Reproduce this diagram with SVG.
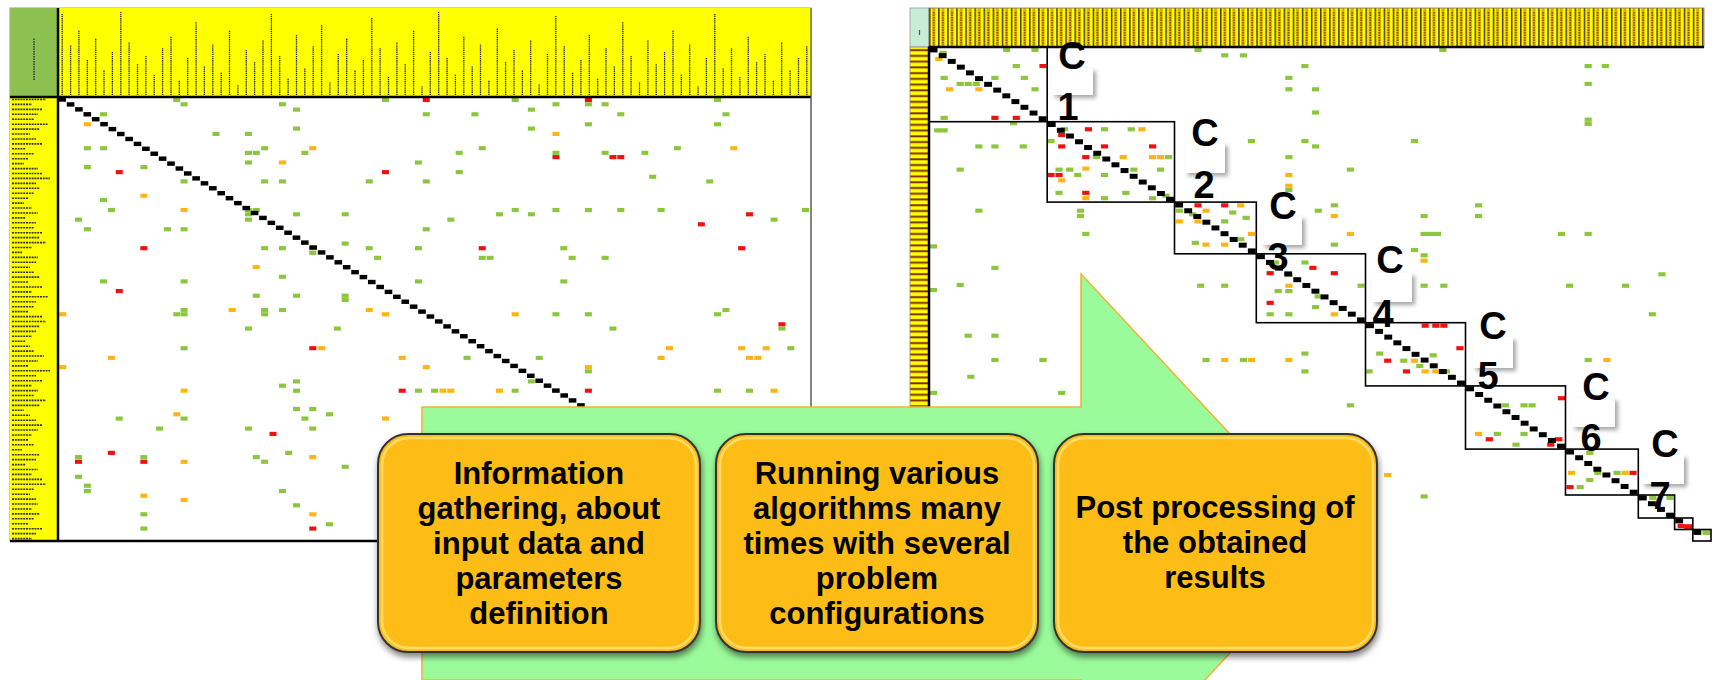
<svg xmlns="http://www.w3.org/2000/svg" xmlns:xlink="http://www.w3.org/1999/xlink" width="1718" height="680" viewBox="0 0 1718 680">
<style>
.txt{font-family:"Liberation Sans",Arial,sans-serif;font-weight:bold;fill:#000;text-anchor:middle}
.step{font-size:31px}
.cl{font-size:38px}
.lb{fill:#fff;filter:url(#ls)}
.cbox{fill:none;stroke:#000;stroke-width:1.6}
.box{fill:#FEBD12;stroke:#333;stroke-width:2}
.bev{fill:none;stroke:#FFE37E;stroke-width:2.5;opacity:.8}
</style>
<defs>
<filter id="ls" x="-30%" y="-30%" width="170%" height="170%"><feDropShadow dx="3" dy="3" stdDeviation="2" flood-color="#000" flood-opacity=".35"/></filter>
<filter id="bs" x="-10%" y="-10%" width="120%" height="125%"><feDropShadow dx="1" dy="4" stdDeviation="3" flood-color="#000" flood-opacity=".5"/></filter>
<rect id="g" x="-6.7" y="-5.8" width="13.4" height="11.6" fill="#8CC63F"/>
<rect id="o" x="-6.7" y="-5.8" width="13.4" height="11.6" fill="#FDB515"/>
<rect id="r" x="-6.7" y="-5.8" width="13.4" height="11.6" fill="#F01010"/>
<g id="dL" fill="#000">
<rect x="0" y="0" width="7.6" height="4.4"/><rect x="8.367" y="4.933" width="7.6" height="4.4"/><rect x="16.73" y="9.867" width="7.6" height="4.4"/><rect x="25.1" y="14.8" width="7.6" height="4.4"/><rect x="33.47" y="19.73" width="7.6" height="4.4"/><rect x="41.84" y="24.67" width="7.6" height="4.4"/><rect x="50.2" y="29.6" width="7.6" height="4.4"/><rect x="58.57" y="34.53" width="7.6" height="4.4"/><rect x="66.94" y="39.47" width="7.6" height="4.4"/><rect x="75.3" y="44.4" width="7.6" height="4.4"/>
</g>
<g id="dR" fill="#000">
<rect x="0" y="0" width="7.9" height="5"/><rect x="9.093" y="5.744" width="7.9" height="5"/><rect x="18.19" y="11.49" width="7.9" height="5"/><rect x="27.28" y="17.23" width="7.9" height="5"/><rect x="36.37" y="22.98" width="7.9" height="5"/><rect x="45.47" y="28.72" width="7.9" height="5"/><rect x="54.56" y="34.46" width="7.9" height="5"/><rect x="63.65" y="40.21" width="7.9" height="5"/><rect x="72.74" y="45.95" width="7.9" height="5"/><rect x="81.84" y="51.7" width="7.9" height="5"/>
</g>
<pattern id="rh" patternUnits="userSpaceOnUse" x="929" y="8" width="9.093" height="39">
<rect width="9.093" height="39" fill="#FFFF00"/>
<rect x="0" width="1.5" height="39" fill="#4a3a00"/>
<rect x="3.2" width="3.2" height="39" fill="#D9AE00"/>
<line x1="4.8" y1="4" x2="4.8" y2="37" stroke="#9A3A08" stroke-width="1.5" stroke-dasharray="1.5 1"/>
</pattern>
<pattern id="rrow" patternUnits="userSpaceOnUse" x="910" y="47" width="19" height="5.744">
<rect width="19" height="5.744" fill="#FFFF00"/>
<rect y="2.2" width="19" height="1.9" fill="#7A2A10"/>
</pattern>
</defs>

<rect width="1718" height="680" fill="#fff"/>

<g id="left-matrix">
<rect x="10" y="8" width="801" height="533" fill="#fff" stroke="#999" stroke-width="1"/>
<rect x="58" y="8" width="753" height="89" fill="#FFFF00"/>
<rect x="10" y="8" width="48" height="89" fill="#8CC152"/>
<rect x="10" y="97" width="48" height="444" fill="#FFFF00"/>
<path d="M34 80V38" stroke="#333" stroke-width="1.5" stroke-dasharray="1.5 1"/>
<path fill="none" stroke="#222" stroke-width="1.3" stroke-dasharray="1.3 0.8" d="M62.2 95V14M70.6 95V45M78.9 95V30M87.3 95V60M95.7 95V38M104 95V70M112.4 95V52M120.8 95V12M129.1 95V42M137.5 95V64M145.9 95V55M154.2 95V75M162.6 95V48M171 95V36M179.3 95V80M187.7 95V58M196.1 95V22M204.4 95V66M212.8 95V44M221.2 95V72M229.5 95V30M237.9 95V85M246.3 95V50M254.6 95V62M263 95V40M271.4 95V14M279.7 95V56M288.1 95V78M296.5 95V34M304.8 95V68M313.2 95V46M321.6 95V25M329.9 95V82M338.3 95V54M346.7 95V38M355 95V70M363.4 95V60M371.8 95V18M380.1 95V48M388.5 95V76M396.9 95V42M405.2 95V64M413.6 95V30M422 95V86M430.3 95V52M438.7 95V12M447.1 95V58M455.4 95V74M463.8 95V36M472.2 95V66M480.5 95V44M488.9 95V80M497.3 95V28M505.6 95V62M514 95V50M522.4 95V70M530.7 95V40M539.1 95V84M547.5 95V54M555.8 95V16M564.2 95V46M572.6 95V72M580.9 95V60M589.3 95V34M597.7 95V78M606 95V48M614.4 95V66M622.8 95V22M631.1 95V56M639.5 95V82M647.9 95V40M656.2 95V64M664.6 95V52M673 95V30M681.3 95V74M689.7 95V44M698.1 95V86M706.4 95V58M714.8 95V14M723.2 95V68M731.5 95V48M739.9 95V76M748.3 95V36M756.6 95V62M765 95V54M773.4 95V80M781.7 95V42M790.1 95V70M798.5 95V58M806.8 95V46"/>
<path fill="none" stroke="#333" stroke-width="1.6" stroke-dasharray="2 0.8" d="M12 99.5h34M12 104.4h20M12 109.4h30M12 114.3h26M12 119.2h22M12 124.2h36M12 129.1h28M12 134h18M12 139h24M12 143.9h30M12 148.8h14M12 153.8h22M12 158.7h16M12 163.6h12M12 168.6h26M12 173.5h30M12 178.4h38M12 183.4h24M12 188.3h28M12 193.2h22M12 198.2h16M12 203.1h12M12 208h20M12 213h26M12 217.9h14M12 222.8h24M12 227.8h22M12 232.7h30M12 237.6h28M12 242.6h34M12 247.5h20M12 252.4h10M12 257.4h26M12 262.3h24M12 267.2h18M12 272.2h22M12 277.1h28M12 282h16M12 287h30M12 291.9h20M12 296.8h36M12 301.8h24M12 306.7h22M12 311.6h16M12 316.6h30M12 321.5h34M12 326.4h28M12 331.4h24M12 336.3h20M12 341.2h14M12 346.2h18M12 351.1h22M12 356h32M12 361h26M12 365.9h16M12 370.8h38M12 375.8h24M12 380.7h30M12 385.6h20M12 390.6h26M12 395.5h22M12 400.4h34M12 405.4h28M12 410.3h12M12 415.2h18M12 420.2h24M12 425.1h30M12 430h26M12 435h20M12 439.9h16M12 444.8h22M12 449.8h10M12 454.7h28M12 459.6h24M12 464.6h14M12 469.5h26M12 474.4h20M12 479.4h30M12 484.3h34M12 489.2h22M12 494.2h18M12 499.1h24M12 504h26M12 509h20M12 513.9h28M12 518.8h22M12 523.8h16M12 528.7h30M12 533.6h24M12 538.6h20"/>
<g transform="scale(0.52301 0.35714)">
<use href="#g" x="338" y="280"/><use href="#g" x="737" y="280"/><use href="#r" x="815" y="280"/><use href="#g" x="985" y="280"/><use href="#r" x="1125" y="280"/><use href="#g" x="1372" y="280"/>
<use href="#g" x="352" y="292"/><use href="#g" x="540" y="292"/><use href="#g" x="1063" y="292"/><use href="#g" x="1125" y="292"/><use href="#g" x="1157" y="292"/>
<use href="#g" x="567" y="307"/><use href="#g" x="1016" y="307"/>
<use href="#g" x="198" y="320"/><use href="#g" x="815" y="320"/><use href="#g" x="908" y="320"/><use href="#g" x="1187" y="320"/><use href="#g" x="1388" y="320"/>
<use href="#o" x="167" y="348"/><use href="#g" x="1125" y="348"/><use href="#g" x="1372" y="348"/>
<use href="#g" x="567" y="360"/><use href="#g" x="1016" y="360"/>
<use href="#g" x="413" y="375"/><use href="#g" x="475" y="375"/><use href="#o" x="1063" y="375"/>
<use href="#g" x="167" y="415"/><use href="#g" x="198" y="415"/><use href="#g" x="506" y="415"/><use href="#o" x="598" y="415"/><use href="#g" x="922" y="415"/><use href="#g" x="1295" y="415"/><use href="#o" x="1403" y="415"/>
<use href="#g" x="475" y="428"/><use href="#g" x="490" y="428"/><use href="#g" x="583" y="428"/><use href="#g" x="878" y="428"/><use href="#g" x="1063" y="428"/><use href="#g" x="1157" y="428"/><use href="#g" x="1233" y="428"/>
<use href="#r" x="1063" y="440"/><use href="#r" x="1172" y="440"/><use href="#r" x="1187" y="440"/>
<use href="#g" x="475" y="455"/><use href="#o" x="540" y="455"/><use href="#g" x="800" y="455"/>
<use href="#g" x="167" y="468"/><use href="#g" x="275" y="468"/>
<use href="#r" x="228" y="482"/><use href="#r" x="737" y="482"/><use href="#g" x="878" y="482"/>
<use href="#g" x="1248" y="495"/>
<use href="#g" x="352" y="508"/><use href="#g" x="506" y="508"/><use href="#g" x="540" y="508"/><use href="#g" x="706" y="508"/><use href="#g" x="815" y="508"/><use href="#g" x="1357" y="508"/>
<use href="#o" x="275" y="548"/><use href="#g" x="198" y="560"/>
<use href="#g" x="213" y="588"/><use href="#o" x="352" y="588"/><use href="#g" x="475" y="588"/><use href="#g" x="490" y="588"/><use href="#g" x="985" y="588"/><use href="#g" x="1063" y="588"/><use href="#g" x="1125" y="588"/><use href="#g" x="1187" y="588"/><use href="#g" x="1264" y="588"/><use href="#g" x="1540" y="588"/>
<use href="#g" x="475" y="600"/><use href="#g" x="567" y="600"/><use href="#g" x="660" y="600"/><use href="#g" x="955" y="600"/><use href="#g" x="1016" y="600"/><use href="#r" x="1433" y="600"/>
<use href="#g" x="150" y="615"/><use href="#g" x="475" y="615"/><use href="#g" x="862" y="615"/><use href="#g" x="1480" y="615"/>
<use href="#r" x="1341" y="628"/>
<use href="#g" x="167" y="642"/><use href="#g" x="320" y="642"/><use href="#g" x="352" y="642"/><use href="#g" x="815" y="642"/>
<use href="#g" x="660" y="682"/>
<use href="#r" x="275" y="695"/><use href="#g" x="506" y="695"/><use href="#g" x="540" y="695"/><use href="#g" x="598" y="695"/><use href="#g" x="706" y="695"/><use href="#g" x="800" y="695"/><use href="#r" x="922" y="695"/><use href="#g" x="1078" y="695"/><use href="#r" x="1418" y="695"/>
<use href="#g" x="598" y="708"/>
<use href="#g" x="722" y="722"/><use href="#g" x="922" y="722"/><use href="#g" x="937" y="722"/><use href="#g" x="1094" y="722"/><use href="#g" x="1157" y="722"/>
<use href="#o" x="490" y="748"/><use href="#g" x="540" y="775"/>
<use href="#g" x="198" y="788"/><use href="#g" x="352" y="788"/><use href="#g" x="800" y="788"/><use href="#g" x="1078" y="788"/>
<use href="#r" x="228" y="815"/>
<use href="#g" x="490" y="828"/><use href="#g" x="567" y="828"/><use href="#g" x="660" y="828"/><use href="#g" x="660" y="840"/>
<use href="#g" x="352" y="868"/><use href="#g" x="506" y="868"/><use href="#g" x="1388" y="868"/>
<use href="#o" x="120" y="880"/><use href="#g" x="338" y="880"/><use href="#g" x="352" y="880"/><use href="#o" x="444" y="868"/><use href="#g" x="506" y="880"/><use href="#g" x="540" y="868"/><use href="#o" x="706" y="868"/><use href="#o" x="737" y="880"/><use href="#o" x="985" y="880"/><use href="#g" x="1063" y="880"/><use href="#g" x="1125" y="880"/><use href="#g" x="1372" y="880"/>
<use href="#r" x="1495" y="908"/>
<use href="#g" x="475" y="920"/><use href="#g" x="645" y="920"/><use href="#g" x="1172" y="920"/><use href="#g" x="1495" y="920"/>
<use href="#g" x="352" y="975"/><use href="#r" x="598" y="975"/><use href="#o" x="615" y="975"/><use href="#o" x="1280" y="975"/><use href="#o" x="1418" y="975"/><use href="#o" x="1465" y="975"/><use href="#g" x="1512" y="975"/>
<use href="#o" x="213" y="1002"/><use href="#o" x="769" y="1002"/><use href="#g" x="893" y="1002"/><use href="#g" x="1031" y="1002"/><use href="#o" x="1264" y="1002"/><use href="#o" x="1433" y="1002"/><use href="#o" x="1449" y="1002"/>
<use href="#o" x="120" y="1028"/><use href="#o" x="815" y="1028"/><use href="#o" x="1125" y="1028"/><use href="#g" x="1125" y="1040"/>
<use href="#g" x="567" y="1068"/><use href="#g" x="1016" y="1068"/><use href="#g" x="540" y="1080"/>
<use href="#o" x="352" y="1094"/><use href="#g" x="567" y="1094"/><use href="#r" x="769" y="1094"/><use href="#g" x="800" y="1094"/><use href="#g" x="831" y="1094"/><use href="#o" x="847" y="1094"/><use href="#o" x="862" y="1094"/><use href="#o" x="955" y="1094"/><use href="#g" x="985" y="1094"/><use href="#r" x="1125" y="1094"/><use href="#g" x="1372" y="1094"/><use href="#g" x="1433" y="1094"/><use href="#o" x="1480" y="1094"/>
<use href="#g" x="567" y="1145"/><use href="#g" x="598" y="1145"/>
<use href="#o" x="338" y="1160"/><use href="#g" x="630" y="1160"/>
<use href="#g" x="228" y="1172"/><use href="#g" x="352" y="1172"/><use href="#g" x="583" y="1172"/><use href="#o" x="737" y="1172"/>
<use href="#g" x="305" y="1200"/><use href="#g" x="475" y="1200"/><use href="#g" x="598" y="1200"/>
<use href="#r" x="522" y="1215"/>
<use href="#r" x="213" y="1268"/><use href="#g" x="552" y="1268"/>
<use href="#g" x="150" y="1280"/><use href="#g" x="275" y="1280"/><use href="#g" x="490" y="1280"/><use href="#o" x="598" y="1280"/>
<use href="#r" x="150" y="1293"/><use href="#r" x="275" y="1293"/><use href="#o" x="352" y="1293"/><use href="#g" x="506" y="1293"/>
<use href="#g" x="660" y="1307"/><use href="#g" x="150" y="1335"/><use href="#g" x="167" y="1360"/><use href="#g" x="167" y="1375"/><use href="#g" x="540" y="1375"/>
<use href="#o" x="275" y="1388"/><use href="#o" x="352" y="1400"/><use href="#g" x="567" y="1415"/>
<use href="#g" x="275" y="1440"/><use href="#o" x="598" y="1440"/><use href="#g" x="630" y="1468"/>
<use href="#g" x="275" y="1480"/><use href="#r" x="598" y="1480"/>
</g>
<use href="#dL" x="58.4" y="97.3"/><use href="#dL" x="142.1" y="146.6"/><use href="#dL" x="225.7" y="196"/><use href="#dL" x="309.4" y="245.3"/><use href="#dL" x="393.1" y="294.6"/><use href="#dL" x="476.8" y="344"/><use href="#dL" x="560.4" y="393.3"/><use href="#dL" x="644.1" y="442.6"/><use href="#dL" x="727.8" y="492"/>
<path d="M10 97H811M58 8V541M10 541H811" stroke="#000" stroke-width="2.5" fill="none"/>
<path d="M811 8V541" stroke="#555" stroke-width="1.2"/>
</g>

<g id="right-matrix">
<rect x="910" y="8" width="19" height="39" fill="#C8EDD6" stroke="#999" stroke-width="0.8"/>
<path d="M919.5 30v5" stroke="#555" stroke-width="1.2"/>
<rect x="929" y="8" width="775" height="39" fill="url(#rh)" stroke="#777" stroke-width="0.8"/>
<rect x="910" y="47" width="19" height="360" fill="url(#rrow)" stroke="#888" stroke-width="0.8"/>
<g transform="translate(880 0) scale(0.53447 0.35714)">
<use href="#g" x="118" y="148"/><use href="#o" x="110" y="165"/><use href="#g" x="255" y="185"/><use href="#g" x="120" y="218"/><use href="#g" x="150" y="235"/><use href="#g" x="165" y="235"/><use href="#g" x="180" y="235"/><use href="#g" x="215" y="218"/><use href="#g" x="270" y="218"/><use href="#o" x="130" y="250"/><use href="#o" x="185" y="250"/><use href="#g" x="290" y="250"/><use href="#r" x="305" y="185"/><use href="#r" x="215" y="330"/><use href="#r" x="255" y="330"/><use href="#g" x="250" y="345"/><use href="#g" x="237" y="140"/><use href="#g" x="290" y="140"/><use href="#g" x="120" y="330"/>
<use href="#g" x="595" y="140"/><use href="#g" x="1053" y="140"/><use href="#g" x="645" y="155"/><use href="#g" x="680" y="155"/><use href="#g" x="795" y="185"/><use href="#g" x="1325" y="185"/><use href="#g" x="1357" y="185"/><use href="#g" x="765" y="218"/><use href="#g" x="765" y="250"/><use href="#g" x="815" y="250"/><use href="#g" x="1325" y="235"/><use href="#g" x="815" y="315"/><use href="#g" x="1325" y="335"/><use href="#g" x="1325" y="347"/><use href="#g" x="108" y="365"/><use href="#g" x="120" y="365"/><use href="#g" x="185" y="410"/><use href="#g" x="215" y="410"/><use href="#g" x="268" y="410"/><use href="#g" x="150" y="475"/><use href="#g" x="695" y="395"/><use href="#g" x="795" y="395"/><use href="#g" x="815" y="410"/><use href="#g" x="1000" y="395"/><use href="#g" x="765" y="440"/><use href="#g" x="880" y="475"/><use href="#o" x="765" y="490"/><use href="#o" x="765" y="520"/><use href="#g" x="765" y="532"/><use href="#g" x="185" y="590"/><use href="#g" x="375" y="590"/><use href="#g" x="375" y="605"/><use href="#g" x="820" y="590"/><use href="#g" x="850" y="575"/><use href="#o" x="850" y="605"/><use href="#g" x="1018" y="605"/><use href="#g" x="1120" y="575"/><use href="#g" x="1120" y="605"/><use href="#g" x="385" y="655"/><use href="#o" x="880" y="655"/><use href="#g" x="1018" y="655"/><use href="#g" x="1030" y="655"/><use href="#g" x="1043" y="655"/><use href="#g" x="1275" y="655"/><use href="#g" x="1325" y="655"/><use href="#g" x="850" y="685"/><use href="#g" x="100" y="690"/><use href="#g" x="215" y="750"/><use href="#g" x="1000" y="700"/><use href="#o" x="1018" y="730"/><use href="#g" x="1018" y="715"/><use href="#g" x="1463" y="768"/><use href="#g" x="150" y="798"/><use href="#g" x="100" y="812"/><use href="#g" x="600" y="800"/><use href="#g" x="645" y="800"/><use href="#g" x="1018" y="800"/><use href="#g" x="1055" y="800"/><use href="#g" x="1290" y="800"/><use href="#g" x="1395" y="800"/><use href="#g" x="1445" y="880"/><use href="#g" x="165" y="940"/><use href="#g" x="215" y="940"/><use href="#g" x="215" y="1008"/><use href="#g" x="305" y="1008"/><use href="#g" x="610" y="1008"/><use href="#o" x="645" y="1008"/><use href="#g" x="680" y="1008"/><use href="#o" x="695" y="1008"/><use href="#o" x="765" y="1008"/><use href="#g" x="795" y="990"/><use href="#g" x="1325" y="1008"/><use href="#o" x="1360" y="1008"/><use href="#g" x="795" y="1040"/><use href="#g" x="170" y="1055"/><use href="#g" x="100" y="1100"/><use href="#g" x="340" y="1100"/><use href="#g" x="880" y="1135"/><use href="#o" x="950" y="1330"/><use href="#g" x="1018" y="1390"/>
<use href="#g" x="345" y="362"/><use href="#r" x="340" y="378"/><use href="#r" x="390" y="362"/><use href="#g" x="420" y="362"/><use href="#g" x="470" y="362"/><use href="#o" x="490" y="362"/><use href="#g" x="320" y="395"/><use href="#r" x="340" y="410"/><use href="#r" x="420" y="410"/><use href="#r" x="510" y="410"/><use href="#r" x="385" y="440"/><use href="#g" x="405" y="440"/><use href="#o" x="455" y="440"/><use href="#o" x="510" y="440"/><use href="#o" x="525" y="440"/><use href="#g" x="540" y="440"/><use href="#g" x="335" y="475"/><use href="#g" x="355" y="475"/><use href="#o" x="385" y="472"/><use href="#g" x="420" y="490"/><use href="#g" x="475" y="475"/><use href="#g" x="525" y="475"/><use href="#r" x="320" y="490"/><use href="#r" x="335" y="490"/><use href="#o" x="340" y="505"/><use href="#g" x="370" y="490"/><use href="#g" x="335" y="540"/><use href="#r" x="385" y="540"/><use href="#o" x="385" y="555"/><use href="#g" x="420" y="555"/><use href="#g" x="460" y="540"/><use href="#g" x="510" y="555"/><use href="#g" x="535" y="548"/>
<use href="#r" x="595" y="575"/><use href="#r" x="645" y="575"/><use href="#o" x="675" y="575"/><use href="#g" x="560" y="590"/><use href="#g" x="585" y="600"/><use href="#o" x="610" y="590"/><use href="#g" x="660" y="595"/><use href="#o" x="560" y="620"/><use href="#o" x="595" y="620"/><use href="#g" x="645" y="620"/><use href="#g" x="685" y="610"/><use href="#g" x="590" y="680"/><use href="#o" x="610" y="685"/><use href="#o" x="645" y="685"/><use href="#g" x="675" y="670"/><use href="#o" x="695" y="655"/>
<use href="#g" x="740" y="735"/><use href="#g" x="795" y="735"/><use href="#r" x="810" y="750"/><use href="#r" x="730" y="765"/><use href="#g" x="765" y="770"/><use href="#r" x="850" y="765"/><use href="#o" x="765" y="800"/><use href="#g" x="745" y="815"/><use href="#g" x="765" y="815"/><use href="#g" x="820" y="830"/><use href="#r" x="730" y="848"/><use href="#g" x="730" y="880"/><use href="#g" x="765" y="880"/><use href="#g" x="815" y="860"/><use href="#o" x="850" y="880"/><use href="#g" x="900" y="800"/>
<use href="#r" x="1020" y="912"/><use href="#r" x="1040" y="912"/><use href="#r" x="1055" y="912"/><use href="#r" x="1085" y="975"/><use href="#g" x="935" y="990"/><use href="#r" x="950" y="1010"/><use href="#g" x="980" y="1010"/><use href="#o" x="1000" y="1010"/><use href="#g" x="1035" y="995"/><use href="#r" x="985" y="1040"/><use href="#o" x="1020" y="1040"/><use href="#o" x="1040" y="1040"/><use href="#g" x="1010" y="1025"/><use href="#g" x="1060" y="1040"/><use href="#g" x="915" y="1040"/>
<use href="#g" x="1170" y="1135"/><use href="#g" x="1205" y="1135"/><use href="#g" x="1220" y="1135"/><use href="#o" x="1120" y="1215"/><use href="#g" x="1155" y="1215"/><use href="#r" x="1140" y="1230"/><use href="#g" x="1205" y="1215"/><use href="#g" x="1190" y="1245"/><use href="#r" x="1255" y="1245"/><use href="#r" x="1270" y="1230"/><use href="#r" x="1275" y="1115"/>
<use href="#o" x="1294" y="1324"/><use href="#r" x="1291" y="1364"/><use href="#g" x="1310" y="1364"/><use href="#g" x="1328" y="1344"/><use href="#g" x="1343" y="1324"/><use href="#g" x="1379" y="1324"/><use href="#o" x="1394" y="1324"/><use href="#r" x="1409" y="1324"/><use href="#g" x="1328" y="1268"/><use href="#g" x="1446" y="1394"/><use href="#g" x="1478" y="1394"/><use href="#r" x="1499" y="1473"/><use href="#g" x="1547" y="1492"/>
</g>
<use href="#dR" x="929.6" y="47.4"/><use href="#dR" x="1020.5" y="104.8"/><use href="#dR" x="1111.5" y="162.3"/><use href="#dR" x="1202.4" y="219.7"/><use href="#dR" x="1293.3" y="277.2"/><use href="#dR" x="1384.3" y="334.6"/><use href="#dR" x="1475.2" y="392"/><use href="#dR" x="1566.1" y="449.5"/>
<g fill="#000"><rect x="1657" y="506.9" width="7.9" height="5"/><rect x="1666.1" y="512.7" width="7.9" height="5"/><rect x="1675.2" y="518.4" width="7.9" height="5"/><rect x="1693.4" y="529.9" width="7.9" height="5"/></g>
<rect x="1684.3" y="524.2" width="7.9" height="5" fill="#F01010"/>
<rect x="1702.5" y="530.2" width="7.9" height="4.5" fill="#8CC63F"/>
<path d="M929 47H1704M929 47V407" stroke="#000" stroke-width="2.5" fill="none"/>
<rect class="cbox" x="929" y="47" width="118.2" height="74.7"/>
<rect class="cbox" x="1047.2" y="121.7" width="127.3" height="80.4"/>
<rect class="cbox" x="1174.5" y="202.1" width="81.8" height="51.7"/>
<rect class="cbox" x="1256.3" y="253.8" width="109.2" height="68.9"/>
<rect class="cbox" x="1365.5" y="322.7" width="100" height="63.2"/>
<rect class="cbox" x="1465.5" y="385.9" width="100" height="63.2"/>
<rect class="cbox" x="1565.5" y="449.1" width="72.8" height="45.9"/>
<rect class="cbox" x="1638.3" y="495" width="36.3" height="23"/>
<rect class="cbox" x="1674.6" y="518" width="18.2" height="11.5"/>
<rect class="cbox" x="1692.8" y="529.5" width="18.2" height="11.5"/>
</g>

<g id="cluster-1"><rect class="lb" x="1052" y="68" width="41" height="27"/><text class="txt cl" x="1072" y="69">C</text><text class="txt cl" x="1068" y="120">1</text></g>
<g id="cluster-2"><rect class="lb" x="1185" y="143" width="40" height="30"/><text class="txt cl" x="1205" y="146">C</text><text class="txt cl" x="1204" y="198">2</text></g>
<g id="cluster-3"><rect class="lb" x="1262" y="216" width="40" height="29"/><text class="txt cl" x="1283" y="219">C</text><text class="txt cl" x="1278" y="270">3</text></g>
<g id="cluster-4"><rect class="lb" x="1372" y="273" width="40" height="29"/><text class="txt cl" x="1390" y="273">C</text><text class="txt cl" x="1383" y="327">4</text></g>
<g id="cluster-5"><rect class="lb" x="1473" y="337" width="40" height="31"/><text class="txt cl" x="1493" y="339">C</text><text class="txt cl" x="1488" y="389">5</text></g>
<g id="cluster-6"><rect class="lb" x="1572" y="398" width="43" height="29"/><text class="txt cl" x="1596" y="400">C</text><text class="txt cl" x="1591" y="451">6</text></g>
<g id="cluster-7"><rect class="lb" x="1642" y="455" width="42" height="29"/><text class="txt cl" x="1665" y="457">C</text><text class="txt cl" x="1660" y="509">7</text></g>

<g id="connectors">
<polygon points="422,407 1081,407 1081,274 1332,543.5 1081,813 1081,680 422,680" fill="#9BFB9B" stroke="#F2B33D" stroke-width="1.6"/>
</g>

<g id="step1">
<rect class="box" x="378" y="434" width="322" height="218" rx="30" filter="url(#bs)"/>
<rect class="bev" x="382" y="438" width="314" height="210" rx="27"/>
<text class="txt step" x="539" y="484">Information</text>
<text class="txt step" x="539" y="519">gathering, about</text>
<text class="txt step" x="539" y="554">input data and</text>
<text class="txt step" x="539" y="589">parameters</text>
<text class="txt step" x="539" y="624">definition</text>
</g>
<g id="step2">
<rect class="box" x="716" y="434" width="322" height="218" rx="30" filter="url(#bs)"/>
<rect class="bev" x="720" y="438" width="314" height="210" rx="27"/>
<text class="txt step" x="877" y="484">Running various</text>
<text class="txt step" x="877" y="519">algorithms many</text>
<text class="txt step" x="877" y="554">times with several</text>
<text class="txt step" x="877" y="589">problem</text>
<text class="txt step" x="877" y="624">configurations</text>
</g>
<g id="step3">
<rect class="box" x="1054" y="434" width="323" height="218" rx="30" filter="url(#bs)"/>
<rect class="bev" x="1058" y="438" width="315" height="210" rx="27"/>
<text class="txt step" x="1215" y="518">Post processing of</text>
<text class="txt step" x="1215" y="553">the obtained</text>
<text class="txt step" x="1215" y="588">results</text>
</g>
</svg>
